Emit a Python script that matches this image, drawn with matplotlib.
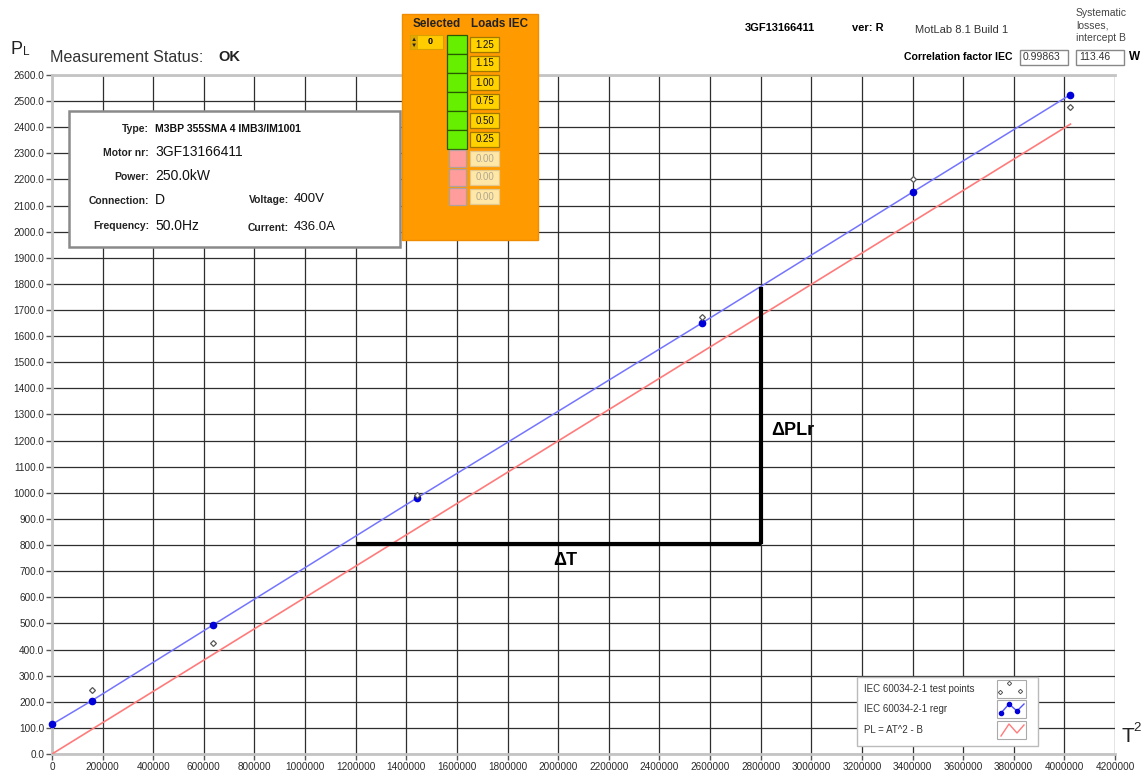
import matplotlib
matplotlib.use("Agg")
import matplotlib.pyplot as plt
from matplotlib.patches import Rectangle
from matplotlib.lines import Line2D

plt.rcParams['font.family'] = ['Liberation Sans', 'DejaVu Sans']

# ---- measured data -------------------------------------------------------
t2_points = [157000, 636000, 1443000, 2569000, 3403000, 4024000]
pl_test = [245, 424, 992, 1675, 2202, 2478]
regr_t2 = [0, 157000, 636000, 1443000, 2569000, 3403000, 4024000]
regr_pl = [113.46, 204, 494, 981, 1651, 2153, 2525]
model_t2 = [0, 4024000]
model_pl = [0, 2412]

delta_t = [1200000, 2800000]
delta_base = 805
delta_top = 1790

x_ticks = list(range(0, 4200001, 200000))
y_ticks = list(range(0, 2601, 100))

loads_iec = ['1.25', '1.15', '1.00', '0.75', '0.50', '0.25', '0.00', '0.00', '0.00']
load_active = [True, True, True, True, True, True, False, False, False]

info_left = [("Type:", "M3BP 355SMA 4 IMB3/IM1001", 7.5),
             ("Motor nr:", "3GF13166411", 10),
             ("Power:", "250.0kW", 10),
             ("Connection:", "D", 10),
             ("Frequency:", "50.0Hz", 10)]
info_right = [("Voltage:", "400V"), ("Current:", "436.0A")]

# ---- figure --------------------------------------------------------------
W, H = 1145, 776
fig = plt.figure(figsize=(W / 100, H / 100), dpi=100)
fig.patch.set_facecolor('white')


def fx(x):
    return x / W


def fy(y):
    return 1 - y / H


def prect(x0, y0, x1, y1, **kw):
    r = Rectangle((fx(x0), fy(y1)), fx(x1) - fx(x0), fy(y0) - fy(y1),
                  transform=fig.transFigure, **kw)
    fig.add_artist(r)
    return r


def ptext(x, y, s, **kw):
    kw.setdefault('va', 'center')
    kw.setdefault('zorder', 10)
    return fig.text(fx(x), fy(y), s, **kw)


ax = fig.add_axes([fx(52), fy(754), fx(1115) - fx(52), fy(75) - fy(754)])
ax.set_xlim(0, 4200000)
ax.set_ylim(0, 2600)
ax.set_xticks(x_ticks)
ax.set_xticklabels([str(v) for v in x_ticks])
ax.set_yticks(y_ticks)
ax.set_yticklabels([f"{v:.1f}" for v in y_ticks])
ax.tick_params(axis='both', labelsize=7.2, length=4, width=1,
               direction='out', pad=1.5, colors='#555555',
               labelcolor='#2a2a2a')
ax.grid(True, color='#2e2e2e', linewidth=0.9)
ax.set_axisbelow(True)
ax.spines['right'].set_visible(False)
for side in ('left', 'top', 'bottom'):
    ax.spines[side].set_color('#c4c4c4')
    ax.spines[side].set_linewidth(2)

# regression and model lines
ax.plot(model_t2, model_pl, color='#ff7b7b', lw=1.2, zorder=3)
ax.plot(regr_t2, regr_pl, color='#7474ff', lw=1.1, marker='o',
        markersize=4.5, markerfacecolor='#0000d8', markeredgecolor='#0000d8',
        zorder=4, clip_on=False)
ax.plot(t2_points, pl_test, linestyle='none', marker='D', markersize=3,
        markerfacecolor='white', markeredgecolor='#555555',
        markeredgewidth=0.9, zorder=5)

# delta construction
ax.plot(delta_t, [delta_base, delta_base], color='black', lw=3, zorder=6,
        solid_capstyle='butt')
ax.plot([delta_t[1], delta_t[1]], [delta_base, delta_top], color='black',
        lw=3, zorder=6, solid_capstyle='butt')
ax.text(2030000, 740, "ΔT", fontsize=13, fontweight='bold', ha='center',
        va='center', zorder=7)
ax.text(2840000, 1240, "ΔPLr", fontsize=13, fontweight='bold', ha='left',
        va='center', zorder=7)

# ---- header --------------------------------------------------------------
ptext(11, 50, "P", fontsize=13, color='#222222')
ptext(23, 52, "L", fontsize=8.5, color='#222222')
ptext(50, 57, "Measurement Status:", fontsize=11.6, color='#333333')
ptext(218, 57, "OK", fontsize=10.5, fontweight='bold', color='#222222')
ptext(1121, 737, "T", fontsize=15, color='#222222')
ptext(1133, 728, "2", fontsize=9.5, color='#222222')

ptext(745, 28, "3GF13166411", fontsize=8, fontweight='bold')
ptext(852, 28, "ver: R", fontsize=8, fontweight='bold')
ptext(915, 30, "MotLab 8.1 Build 1", fontsize=8, color='#333333')
ptext(1076, 13, "Systematic", fontsize=7.5, color='#444444')
ptext(1076, 26, "losses,", fontsize=7.5, color='#444444')
ptext(1076, 38, "intercept B", fontsize=7.5, color='#444444')
ptext(1012, 57, "Correlation factor IEC", fontsize=7.6, fontweight='bold',
      ha='right')
prect(1020, 50, 1068, 65, facecolor='white', edgecolor='#888888', lw=1,
      zorder=8)
ptext(1023, 57.5, "0.99863", fontsize=7.5, color='#333333')
prect(1076, 50, 1124, 65, facecolor='white', edgecolor='#888888', lw=1,
      zorder=8)
ptext(1079, 57.5, "113.46", fontsize=7.5, color='#333333')
ptext(1129, 57.5, "W", fontsize=8.5, fontweight='bold')

# ---- motor info box ------------------------------------------------------
prect(69, 111, 400, 247, facecolor='white', edgecolor='#8a8a8a', lw=1.8,
      zorder=8)
rows_y = [129, 153, 177, 201, 226]
for (lab, val, fs), yy in zip(info_left, rows_y):
    ptext(149, yy, lab, fontsize=7.5, fontweight='bold', ha='right',
          color='#222222')
    ptext(155, yy - 0.5, val, fontsize=fs,
          fontweight='bold' if fs < 9 else 'normal', color='#111111')
for (lab, val), yy in zip(info_right, [200, 228]):
    ptext(289, yy, lab, fontsize=7.5, fontweight='bold', ha='right',
          color='#222222')
    ptext(294, yy - 0.5, val, fontsize=9.5, color='#111111')

# ---- load selection panel ------------------------------------------------
prect(402, 14, 538, 240, facecolor='#ff9a00', edgecolor='#f08c00', lw=1,
      zorder=8)
ptext(413, 24, "Selected", fontsize=8.4, fontweight='bold', color='#222222')
ptext(471, 24, "Loads IEC", fontsize=8.4, fontweight='bold', color='#222222')
prect(410, 35, 443, 49, facecolor='#ffcc00', edgecolor='#d9a000', lw=0.8,
      zorder=9)
prect(410, 35, 417, 49, facecolor='#e0a800', edgecolor='#d9a000', lw=0.5,
      zorder=9)
ptext(413.5, 39.5, "▲", fontsize=4.5, color='#222222', ha='center')
ptext(413.5, 45, "▼", fontsize=4.5, color='#222222', ha='center')
ptext(430, 42, "0", fontsize=6.5, fontweight='bold', ha='center')
for i, (val, on) in enumerate(zip(loads_iec, load_active)):
    y0 = 35 + 19 * i
    if on:
        prect(447, y0, 467, y0 + 19, facecolor='#66f000', edgecolor='#2a5a00',
              lw=0.9, zorder=9)
        prect(470, y0 + 2, 499, y0 + 17, facecolor='#ffd200',
              edgecolor='#a07800', lw=0.9, zorder=9)
        ptext(484.5, y0 + 9.5, val, fontsize=7, ha='center', color='#111111')
    else:
        prect(449, y0 + 1, 466, y0 + 18, facecolor='#ff9c9c',
              edgecolor='#b0a0a0', lw=0.9, zorder=9)
        prect(470, y0 + 2, 499, y0 + 17, facecolor='#ffe7a8',
              edgecolor='#e0c890', lw=0.9, zorder=9)
        ptext(484.5, y0 + 9.5, val, fontsize=7, ha='center', color='#b0a890')

# ---- legend --------------------------------------------------------------
prect(857, 677, 1038, 746, facecolor='white', edgecolor='#bbbbbb', lw=1,
      zorder=8)
legend_labels = ["IEC 60034-2-1 test points", "IEC 60034-2-1 regr",
                 "PL = AT^2 - B"]
for k, (lab, yy) in enumerate(zip(legend_labels, [689, 709, 730])):
    ptext(864, yy, lab, fontsize=7, color='#333333')
    prect(997, yy - 9, 1026, yy + 9, facecolor='white', edgecolor='#aaaaaa',
          lw=0.8, zorder=9)

icon_x = [fx(1001), fx(1009), fx(1017), fx(1024)]
fig.add_artist(Line2D([fx(1000), fx(1009), fx(1020)], [fy(692), fy(683), fy(691)],
                      transform=fig.transFigure, linestyle='none', marker='D',
                      markersize=2.2, markerfacecolor='white',
                      markeredgecolor='#555555', markeredgewidth=0.7,
                      zorder=11))
fig.add_artist(Line2D(icon_x, [fy(713), fy(704), fy(711), fy(704)],
                      transform=fig.transFigure, color='#5050ff', lw=1,
                      marker='o', markersize=3, markevery=[0, 1, 2],
                      markerfacecolor='#0000d8', markeredgecolor='#0000d8',
                      zorder=11))
fig.add_artist(Line2D(icon_x, [fy(736), fy(724), fy(733), fy(725)],
                      transform=fig.transFigure, color='#ff7b7b', lw=1,
                      zorder=11))

fig.savefig("out.png", dpi=100)
